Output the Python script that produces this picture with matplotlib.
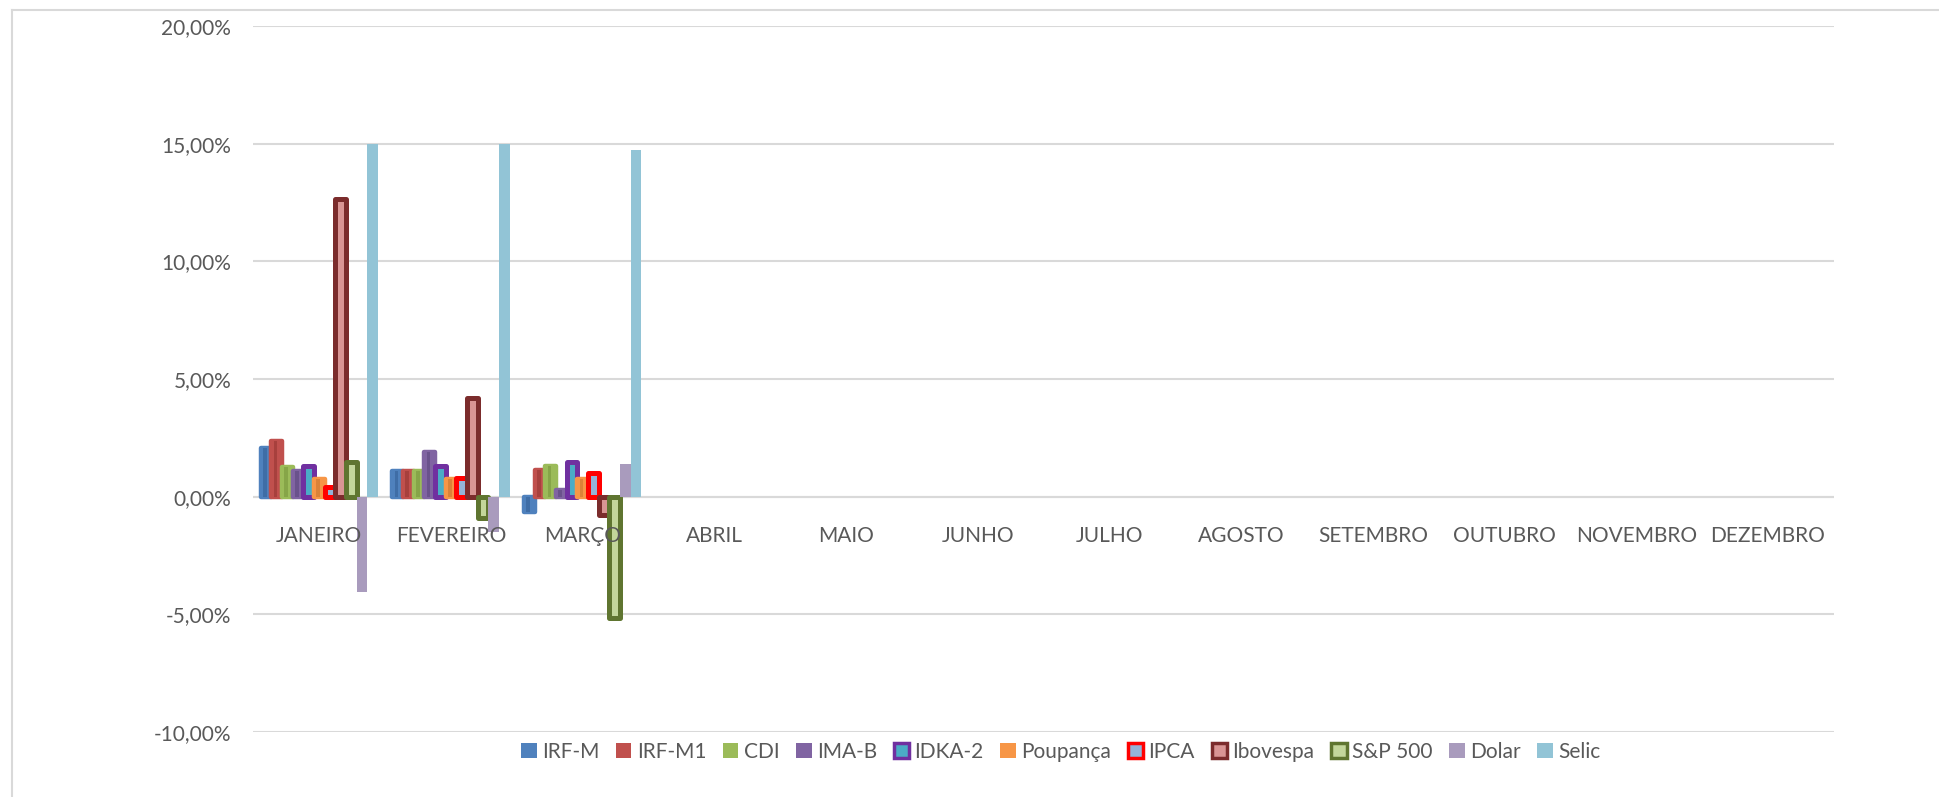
import matplotlib.pyplot as plt
from matplotlib.patches import Patch
from matplotlib.lines import Line2D
import numpy as np

# months on the x axis
months = ['JANEIRO', 'FEVEREIRO', 'MARÇO', 'ABRIL', 'MAIO', 'JUNHO',
          'JULHO', 'AGOSTO', 'SETEMBRO', 'OUTUBRO', 'NOVEMBRO', 'DEZEMBRO']

# monthly returns in % (only Jan-Mar filled)
irf_m = [2.06, 1.10, -0.66]
irf_m1 = [2.37, 1.11, 1.13]
cdi = [1.25, 1.08, 1.32]
ima_b = [1.10, 1.89, 0.28]
idka_2 = [1.32, 1.32, 1.49]
poupanca = [0.74, 0.74, 0.75]
ipca = [0.43, 0.78, 0.99]
ibovespa = [12.64, 4.18, -0.78]
sp500 = [1.47, -0.92, -5.17]
dolar = [-4.04, -1.49, 1.38]
selic = [15.00, 15.00, 14.75]

series_names = ['IRF-M', 'IRF-M1', 'CDI', 'IMA-B', 'IDKA-2', 'Poupança',
                'IPCA', 'Ibovespa', 'S&P 500', 'Dolar', 'Selic']
series_values = [irf_m, irf_m1, cdi, ima_b, idka_2, poupanca, ipca,
                 ibovespa, sp500, dolar, selic]

# style: (main colour, inner colour, kind)
styles = [
    ('#4F81BD', '#3F6DA6', 'stripe'),
    ('#C0504D', '#A7403D', 'stripe'),
    ('#9BBB59', '#86A548', 'stripe'),
    ('#8064A2', '#6A528C', 'stripe'),
    ('#7030A0', '#4BACC6', 'border'),
    ('#F79646', '#DB8238', 'stripe'),
    ('#FF0000', '#95B3D7', 'border'),
    ('#7B2C2C', '#D99594', 'border'),
    ('#5F7530', '#C3D69B', 'border'),
    ('#A99BBD', None, 'plain'),
    ('#92C4D6', None, 'plain'),
]

plt.rcParams['font.family'] = ['Lato', 'DejaVu Sans']
text_color = '#595959'
grid_color = '#D9D9D9'

fig = plt.figure(figsize=(19.39, 7.97), dpi=100)
ax = fig.add_axes([0.1307, 0.0816, 0.9458 - 0.1307, 0.9674 - 0.0816])

x = np.arange(len(months))
w = 0.081
n = len(series_names)

for j, (name, vals, (main, inner, kind)) in enumerate(zip(series_names, series_values, styles)):
    xs = x[:len(vals)] + (j - (n - 1) / 2) * w
    if kind == 'stripe':
        ax.bar(xs, vals, w, color=main, edgecolor=main, linewidth=3.2,
               joinstyle='round', zorder=3)
        ax.bar(xs - w * 0.1, vals, w * 0.35, color=inner, linewidth=0, zorder=3)
    elif kind == 'border':
        ax.bar(xs, vals, w, color=inner, edgecolor=main, linewidth=3.6,
               joinstyle='round', zorder=3)
    else:
        ax.bar(xs, vals, w, color=main, linewidth=0, zorder=3)

ax.set_xlim(-0.5, len(months) - 0.5)
ax.set_ylim(-10, 20)
ax.set_yticks(np.arange(-10, 21, 5))
ax.set_yticklabels([f'{v:.2f}%'.replace('.', ',') for v in np.arange(-10, 21, 5)])
ax.yaxis.grid(True, color=grid_color, linewidth=1.5, zorder=0)
ax.set_axisbelow(True)
for s in ax.spines.values():
    s.set_visible(False)
ax.axhline(0, color=grid_color, linewidth=1.5, zorder=2)
ax.tick_params(axis='y', length=0, pad=16, labelsize=15, labelcolor=text_color)
ax.set_xticks([])

for i, m in enumerate(months):
    ax.annotate(m, (i, 0), xytext=(0, -28), textcoords='offset points',
                ha='center', va='center', fontsize=15, color=text_color)

handles = []
for name, (main, inner, kind) in zip(series_names, styles):
    if kind == 'border':
        handles.append(Patch(facecolor=inner, edgecolor=main, linewidth=2.5))
    else:
        handles.append(Patch(facecolor=main, edgecolor=main, linewidth=0))
leg = fig.legend(handles, series_names, loc='center', bbox_to_anchor=(0.547, 0.057),
                 ncol=n, frameon=False, fontsize=15, handlelength=0.75,
                 handleheight=0.75, handletextpad=0.25, columnspacing=0.8,
                 labelcolor=text_color)

# outer chart frame
fig.add_artist(Line2D([0.0062, 0.0062], [0, 0.987], transform=fig.transFigure,
                      color=grid_color, linewidth=1.5))
fig.add_artist(Line2D([0.0062, 1.0], [0.987, 0.987], transform=fig.transFigure,
                      color=grid_color, linewidth=1.5))

fig.savefig('out.png', dpi=100, facecolor='white')
